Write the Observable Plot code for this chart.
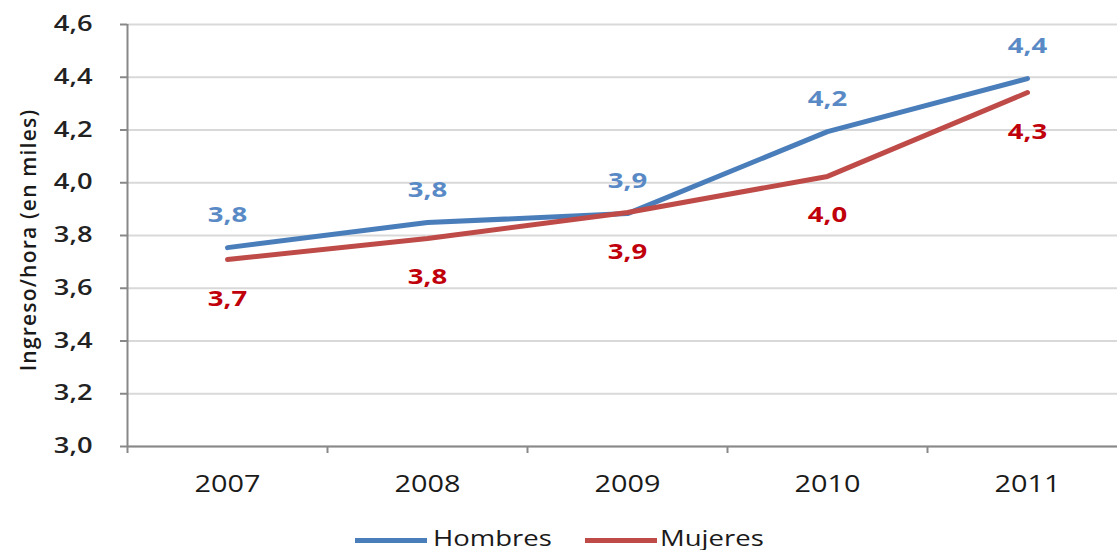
<!DOCTYPE html>
<html><head><meta charset="utf-8">
<script src="https://cdn.jsdelivr.net/npm/d3@7"></script>
<script src="https://cdn.jsdelivr.net/npm/@observablehq/plot@0.6"></script>
<style>
body{margin:0;background:#fff;font-family:"Open Sans",sans-serif;position:relative;width:1117px;height:550px;overflow:hidden;}
#legend{position:absolute;left:0;top:522px;width:1117px;height:36px;font-family:"Open Sans",sans-serif;font-size:22px;color:#1a1a1a;}
.sw{position:absolute;top:16px;width:72px;height:5px;}
.lt{position:absolute;top:0;display:inline-block;transform:scaleX(1.25);transform-origin:left center;white-space:nowrap;}
#ylabel{position:absolute;left:28px;top:240px;transform:translate(-50%,-50%) rotate(-90deg);white-space:nowrap;font-family:"Open Sans",sans-serif;font-size:21px;font-weight:600;letter-spacing:1.2px;color:#1a1a1a;}
</style></head>
<body>
<div id="chart"></div>
<div id="legend"></div>
<div id="ylabel">Ingreso/hora (en miles)</div>
<script>
const years = [2007, 2008, 2009, 2010, 2011];
const hombres = [3.754, 3.849, 3.883, 4.194, 4.395];
const mujeres = [3.709, 3.789, 3.887, 4.024, 4.342];
const series = ["Hombres", "Mujeres"];
const colors = ["#4A7EBB", "#BE4B48"];
const labelColors = ["#5A8AC6", "#C0000B"];
const yTicks = [3.0, 3.2, 3.4, 3.6, 3.8, 4.0, 4.2, 4.4, 4.6];
const bandEdges = [2006.5, 2007.5, 2008.5, 2009.5, 2010.5, 2011.5];

const data = [];
years.forEach((y, i) => {
  data.push({year: y, value: hombres[i], serie: "Hombres"});
  data.push({year: y, value: mujeres[i], serie: "Mujeres"});
});
const fmt = v => d3.format(".1f")(v).replace(".", ",");

const chart = Plot.plot({
  width: 1117,
  height: 505,
  marginTop: 24,
  marginBottom: 59,
  marginLeft: 127,
  marginRight: 0,
  style: {fontFamily: "Open Sans, sans-serif", overflow: "visible"},
  x: {domain: [2006.5, 2011.5], range: [127, 1127]},
  y: {domain: [3.0, 4.6]},
  color: {domain: series, range: colors},
  marks: [
    Plot.gridY(yTicks, {stroke: "#D9D9D9", strokeOpacity: 1, strokeWidth: 2}),
    Plot.axisY({ticks: yTicks, tickFormat: fmt, tickSize: 7, tickPadding: 28, stroke: "#888", strokeWidth: 2, fontSize: 21, fontWeight: 600, fill: "#222", label: null}),
    Plot.axisX({ticks: years, tickFormat: d => String(d), tickSize: 0, tickPadding: 28, fontSize: 24, fill: "#1a1a1a", label: null}),
    Plot.axisX({ticks: bandEdges, tickFormat: () => "", tickSize: 7, stroke: "#888", strokeWidth: 2, label: null}),
    Plot.ruleY([3.0], {stroke: "#888", strokeWidth: 2}),
    Plot.ruleX([2006.5], {stroke: "#888", strokeWidth: 2}),
    Plot.line(data, {x: "year", y: "value", stroke: "serie", z: "serie", strokeWidth: 5}),
    Plot.text(data.filter(d => d.serie === "Hombres"), {x: "year", y: "value", text: d => fmt(d.value), dy: -33, fill: labelColors[0], fontSize: 22, fontWeight: "bold"}),
    Plot.text(data.filter(d => d.serie === "Mujeres"), {x: "year", y: "value", text: d => fmt(d.value), dy: 39, fill: labelColors[1], fontSize: 22, fontWeight: "bold"})
  ]
});
document.getElementById("chart").appendChild(chart);
const svg = d3.select(chart);
function stretch(sel, k) {
  sel.each(function() {
    const t = this.getAttribute("transform") || "";
    this.setAttribute("transform", t + ` scale(${k},1)`);
  });
}
stretch(svg.selectAll("g[aria-label='y-axis tick label'] text"), 1.3);
stretch(svg.selectAll("g[aria-label='x-axis tick label'] text"), 1.2);
stretch(svg.selectAll("g[aria-label='text'] text"), 1.25);

const legend = document.getElementById("legend");
const swX = [355, 585], txX = [433, 660];
series.forEach((s, i) => {
  const sw = document.createElement("span");
  sw.className = "sw";
  sw.style.left = swX[i] + "px";
  sw.style.background = colors[i];
  legend.appendChild(sw);
  const tx = document.createElement("span");
  tx.className = "lt";
  tx.style.left = txX[i] + "px";
  tx.textContent = s;
  legend.appendChild(tx);
});
</script>
</body></html>
